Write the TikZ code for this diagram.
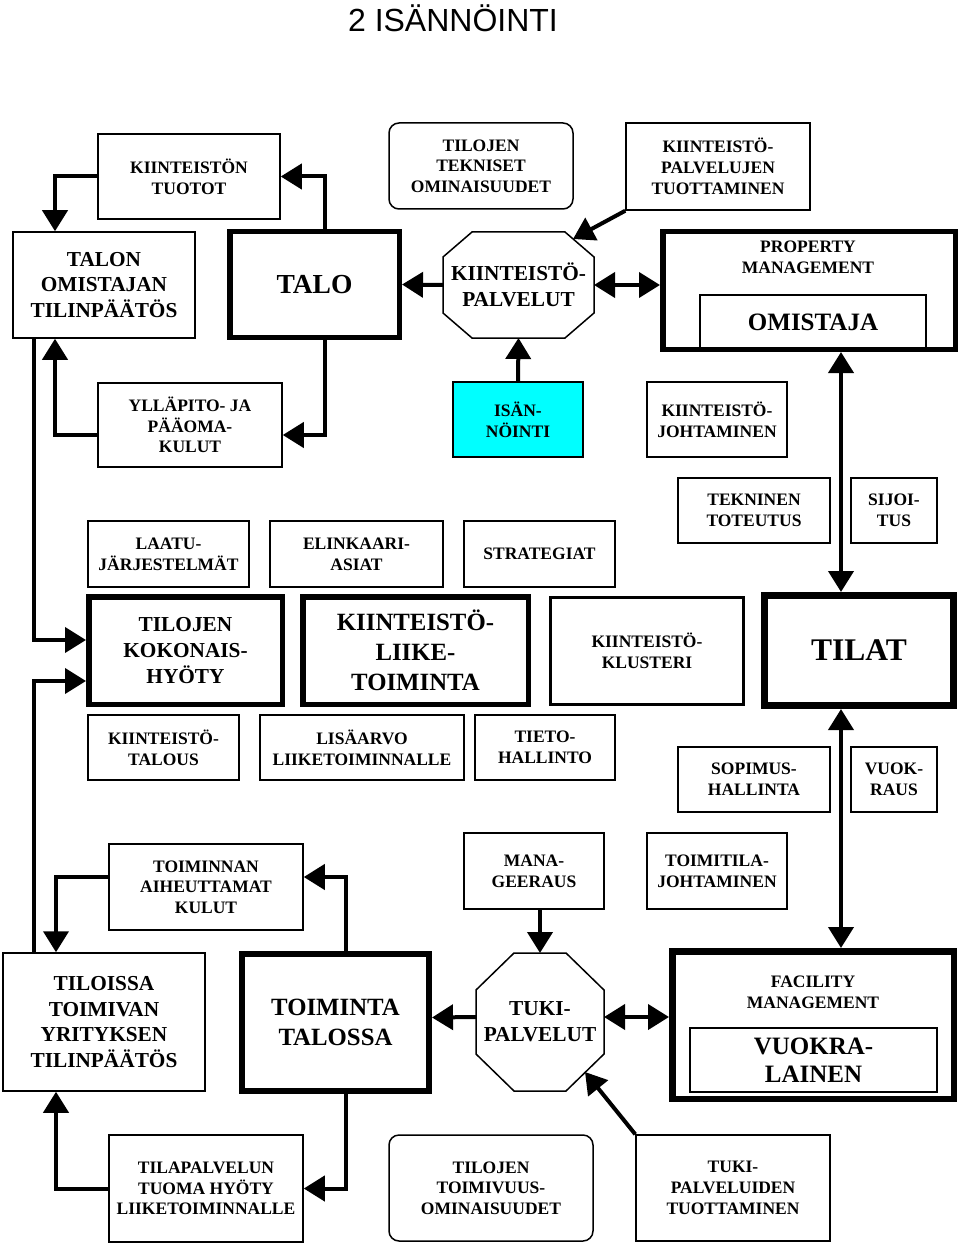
\documentclass[tikz,border=0pt]{standalone}
\usepackage{fontspec}
\setmainfont{Liberation Serif}
\newfontfamily\titlefont{Liberation Sans}
\usetikzlibrary{arrows.meta}
\definecolor{isancyan}{RGB}{0,255,255}

\tikzset{
  box/.style={draw, line width=1.5pt, align=center, inner sep=0pt, font=\fontsize{17.5}{20.7}\selectfont\bfseries},
  thickbox/.style={box, line width=5.5pt},
  midtext/.style={font=\fontsize{21.3}{25.7}\selectfont\bfseries},
  bigtext/.style={font=\fontsize{24.8}{30}\selectfont\bfseries},
  link/.style={line width=4pt, -{Triangle[length=21pt,width=25pt]}},
  twolink/.style={line width=4pt, {Triangle[length=21pt,width=25pt]}-{Triangle[length=21pt,width=25pt]}}
}

\newcommand{\octbox}[3]{%
  \draw[line width=1.5pt] ([xshift=#2]#1.north west) -- ([xshift=-#2]#1.north east)
    -- ([yshift=-#3]#1.north east) -- ([yshift=#3]#1.south east)
    -- ([xshift=-#2]#1.south east) -- ([xshift=#2]#1.south west)
    -- ([yshift=#3]#1.south west) -- ([yshift=-#3]#1.north west) -- cycle;}

\begin{document}
\begin{tikzpicture}[x=1pt,y=-1pt]
    \useasboundingbox (0,0) rectangle (960,1246);

    \node[anchor=base, font=\titlefont\fontsize{32}{36}\selectfont] (title) at (453,32) {2 ISÄNNÖINTI};

    \foreach \n/\x/\y/\w/\h/\t in {
      tuotot/189/176.5/182/85/{KIINTEISTÖN\\TUOTOT},
      palvtuot/718/166.5/184/87/{KIINTEISTÖ-\\PALVELUJEN\\TUOTTAMINEN},
      yllapito/190/425/184/84/{YLLÄPITO- JA\\PÄÄOMA-\\KULUT},
      kjohto/717/419.5/140/75/{KIINTEISTÖ-\\JOHTAMINEN},
      tekninen/754/510.5/152/65/{TEKNINEN\\TOTEUTUS},
      sijoitus/894/510.5/86/65/{SIJOI-\\TUS},
      laatu/168.5/554/161/66/{LAATU-\\JÄRJESTELMÄT},
      elinkaari/356.5/554/173/66/{ELINKAARI-\\ASIAT},
      strategiat/539.5/554/151/66/{STRATEGIAT},
      ktalous/163.5/747.5/151/65/{KIINTEISTÖ-\\TALOUS},
      lisaarvo/362/747.5/204/65/{LISÄARVO\\LIIKETOIMINNALLE},
      tieto/545/747.5/140/65/{TIETO-\\HALLINTO},
      sopimus/754/779.5/152/65/{SOPIMUS-\\HALLINTA},
      vuokraus/894/779.5/86/65/{VUOK-\\RAUS},
      toiminnan/206/887/194/86/{TOIMINNAN\\AIHEUTTAMAT\\KULUT},
      manag/534/871/140/76/{MANA-\\GEERAUS},
      toimitila/717/871/140/76/{TOIMITILA-\\JOHTAMINEN},
      tilapalv/206/1188.5/194/107/{TILAPALVELUN\\TUOMA HYÖTY\\LIIKETOIMINNALLE},
      tukituot/733/1188/194/106/{TUKI-\\PALVELUIDEN\\TUOTTAMINEN}}{
      \node[box, minimum width=\w pt, minimum height=\h pt] (\n) at (\x,\y) {\t};
    }

    \node[box, rounded corners=10pt, minimum width=184pt, minimum height=86pt] (tekniset) at (481,166) {TILOJEN\\TEKNISET\\OMINAISUUDET};
    \node[box, rounded corners=10pt, minimum width=204pt, minimum height=106pt] (toimivuus) at (491,1188) {TILOJEN\\TOIMIVUUS-\\OMINAISUUDET};
    \node[box, fill=isancyan, minimum width=130pt, minimum height=75pt] (isannointi) at (518,419.5) {ISÄN-\\NÖINTI};

    \node[box, midtext, minimum width=182pt, minimum height=106pt] (omistajan) at (104,285) {TALON\\OMISTAJAN\\TILINPÄÄTÖS};
    \node[box, midtext, minimum width=202pt, minimum height=138pt] (yritys) at (104,1022) {TILOISSA\\TOIMIVAN\\YRITYKSEN\\TILINPÄÄTÖS};
    \node[thickbox, minimum width=169.5pt, minimum height=105.5pt, font=\fontsize{27.5}{32}\selectfont\bfseries] (talo) at (314.5,284.5) {TALO};
    \node[thickbox, midtext, minimum width=193.5pt, minimum height=107.5pt] (hyoty) at (185.5,650.5) {TILOJEN\\KOKONAIS-\\HYÖTY};
    \node[thickbox, bigtext, minimum width=225.5pt, minimum height=107.5pt] (liike) at (415.5,650.5) {KIINTEISTÖ-\\LIIKE-\\TOIMINTA};
    \node[box, line width=2.5pt, minimum width=193pt, minimum height=107pt] (klusteri) at (647,651) {KIINTEISTÖ-\\KLUSTERI};
    \node[thickbox, line width=7pt, minimum width=189pt, minimum height=110pt, font=\fontsize{31.5}{36}\selectfont\bfseries] (tilat) at (859,650.5) {TILAT};
    \node[thickbox, bigtext, line width=6pt, minimum width=187pt, minimum height=137pt] (toiminta) at (335.5,1022.5) {TOIMINTA\\TALOSSA};

    \node[box, draw=none, midtext, minimum width=151pt, minimum height=106pt, outer sep=0pt] (kpalv) at (518.5,285) {KIINTEISTÖ-\\PALVELUT};
    \octbox{kpalv}{29pt}{25pt}
    \node[box, draw=none, midtext, minimum width=128pt, minimum height=138pt, outer sep=0pt] (tuki) at (540,1022) {TUKI-\\PALVELUT};
    \octbox{tuki}{38pt}{37pt}

    \node[box, minimum width=226pt, minimum height=55pt, font=\fontsize{25}{30}\selectfont\bfseries] (omistaja) at (813,322.5) {OMISTAJA};
    \node[thickbox, minimum width=292.5pt, minimum height=117.5pt] (pm) at (809,290.5) {};
    \node[box, draw=none] (pmtext) at (808,257) {PROPERTY\\MANAGEMENT};

    \node[box, minimum width=247pt, minimum height=64pt, font=\fontsize{25}{28}\selectfont\bfseries] (vuokralainen) at (813.5,1060) {VUOKRA-\\LAINEN};
    \node[thickbox, line width=6.5pt, minimum width=281.5pt, minimum height=147.5pt] (fm) at (813,1025) {};
    \node[box, draw=none] (fmtext) at (813,992) {FACILITY\\MANAGEMENT};

    \draw[link] ([xshift=10.5pt]talo.north) |- (tuotot.east);
    \draw[link] (tuotot.west) -| ([xshift=-49pt]omistajan.north);
    \draw[link] ([xshift=10.5pt]talo.south) |- ([yshift=-10pt]yllapito.east);
    \draw[link] ([yshift=-10pt]yllapito.west) -| ([xshift=-49pt]omistajan.south);
    \draw[link] ([xshift=-70pt]omistajan.south) |- ([yshift=10.5pt]hyoty.west);
    \draw[link] ([xshift=-70pt]yritys.north) |- ([yshift=-30.5pt]hyoty.west);

    \draw[link] (kpalv.west) -- (talo.east);
    \draw[twolink] (kpalv.east) -- ([yshift=5.5pt]pm.west);
    \draw[link] (palvtuot.south west) -- ([xshift=-21pt,yshift=-7pt]kpalv.north east);
    \draw[link] (isannointi.north) -- (kpalv.south);
    \draw[twolink] ([xshift=32pt]pm.south) -- ([xshift=-18pt]tilat.north);
    \draw[twolink] ([xshift=-18pt]tilat.south) -- ([xshift=28pt]fm.north);

    \draw[link] ([xshift=10.5pt]toiminta.north) |- ([yshift=10pt]toiminnan.east);
    \draw[link] ([yshift=10pt]toiminnan.west) -| ([xshift=-48pt]yritys.north);
    \draw[link] ([xshift=10.5pt]toiminta.south) |- (tilapalv.east);
    \draw[link] (tilapalv.west) -| ([xshift=-48pt]yritys.south);
    \draw[link] ([xshift=6pt]manag.south) -- (tuki.north);
    \draw[link] ([yshift=5pt]tuki.west) -- ([yshift=5pt]toiminta.east);
    \draw[twolink] ([yshift=5pt]tuki.east) -- ([yshift=8pt]fm.west);
    \draw[link] (tukituot.north west) -- ([xshift=-19pt,yshift=19pt]tuki.south east);
\end{tikzpicture}
\end{document}
